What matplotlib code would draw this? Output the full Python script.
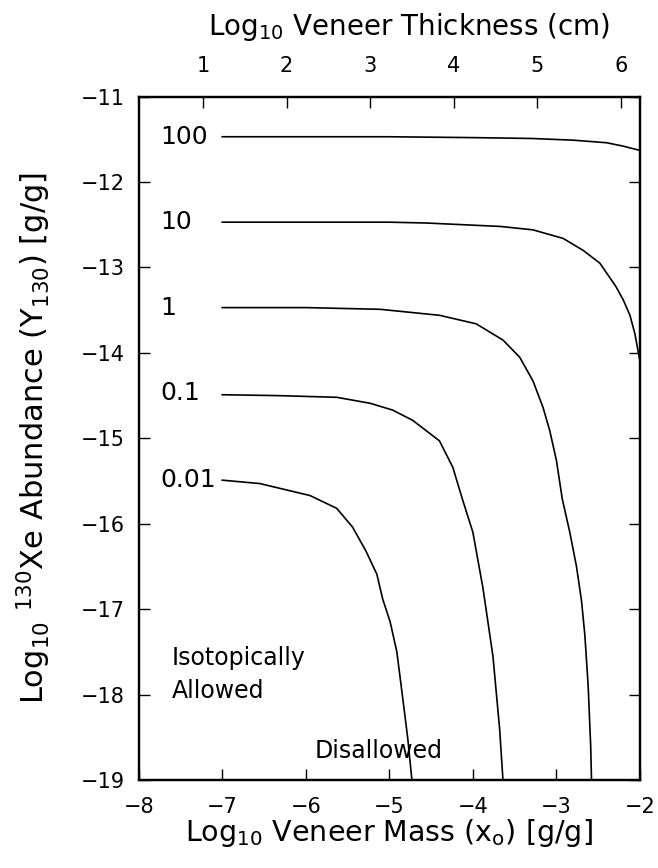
import matplotlib
matplotlib.use("Agg")

import matplotlib.pyplot as plt
import numpy as np

plt.rcParams["font.family"] = ["DejaVu Sans"]
plt.rcParams["mathtext.default"] = "regular"

# veneer curves, one per Xe concentration, in log10 mass / log10 abundance
labels = ["100", "10", "1", "0.1", "0.01"]
label_y = [-11.47, -12.47, -13.47, -14.47, -15.49]

x_100 = [-7.0, -6.0, -5.0, -4.0, -3.3, -2.8, -2.4, -2.2, -2.0]
y_100 = [-11.47, -11.47, -11.47, -11.48, -11.49, -11.51, -11.54, -11.58, -11.63]

x_10 = [-7.0, -6.0, -5.0, -4.55, -3.67, -3.28, -2.92, -2.68, -2.48, -2.29, -2.2, -2.12, -2.06, -2.0]
y_10 = [-12.47, -12.47, -12.47, -12.48, -12.52, -12.56, -12.66, -12.80, -12.95, -13.22, -13.38, -13.56, -13.78, -14.1]

x_1 = [-7.0, -6.0, -5.11, -4.40, -3.96, -3.64, -3.44, -3.28, -3.16, -3.08, -3.00, -2.93,
       -2.84, -2.76, -2.70, -2.66, -2.62, -2.59, -2.58]
y_1 = [-13.47, -13.47, -13.49, -13.56, -13.66, -13.85, -14.05, -14.33, -14.64, -14.91, -15.26, -15.71,
       -16.1, -16.5, -16.9, -17.3, -17.9, -18.6, -19.0]

x_01 = [-7.0, -6.35, -5.63, -5.23, -4.96, -4.72, -4.40, -4.24, -4.12, -4.0, -3.88, -3.76, -3.68, -3.64]
y_01 = [-14.49, -14.50, -14.52, -14.59, -14.67, -14.79, -15.03, -15.34, -15.73, -16.1, -16.75, -17.55, -18.4, -19.0]

x_001 = [-7.0, -6.55, -5.95, -5.63, -5.44, -5.28, -5.15, -5.08, -4.99, -4.91, -4.84, -4.78, -4.73]
y_001 = [-15.49, -15.53, -15.67, -15.82, -16.04, -16.32, -16.59, -16.88, -17.15, -17.5, -18.04, -18.51, -19.0]

curves = [(x_100, y_100), (x_10, y_10), (x_1, y_1), (x_01, y_01), (x_001, y_001)]

# thickness axis: log10 thickness = log10 mass + offset
thick_ticks = [1, 2, 3, 4, 5, 6]
thick_offset = 8.23

fig = plt.figure(figsize=(6.58, 8.68), dpi=100)
ax = fig.add_axes([0.2108, 0.1014, 0.7618, 0.7873])

for (xs, ys) in curves:
    ax.plot(xs, ys, color="black", lw=1.2, solid_joinstyle="round")

for lab, yv in zip(labels, label_y):
    ax.text(-7.74, yv, lab, fontsize=18, ha="left", va="center")

ax.text(-7.6, -17.57, "Isotopically", fontsize=17, ha="left", va="center")
ax.text(-7.6, -17.96, "Allowed", fontsize=17, ha="left", va="center")
ax.text(-5.89, -18.66, "Disallowed", fontsize=17, ha="left", va="center")

ax.set_xlim(-8, -2)
ax.set_ylim(-19, -11)
ax.set_xticks(np.arange(-8, -1, 1))
ax.set_yticks(np.arange(-19, -10, 1))
ax.set_xticklabels(["\u22128", "\u22127", "\u22126", "\u22125", "\u22124", "\u22123", "\u22122"])
ax.set_yticklabels(["\u221219", "\u221218", "\u221217", "\u221216", "\u221215",
                    "\u221214", "\u221213", "\u221212", "\u221211"])
ax.tick_params(axis="both", direction="in", length=8, width=1.0, labelsize=15)
ax.tick_params(axis="x", pad=12)
ax.tick_params(axis="y", pad=10, right=True)

for sp in ax.spines.values():
    sp.set_linewidth(1.6)

ax.set_xlabel(r"Log$_{10}$ Veneer Mass (x$_o$) [g/g]", fontsize=20.5, labelpad=0)
ax.set_ylabel(r"Log$_{10}$ $^{130}$Xe Abundance (Y$_{130}$) [g/g]", fontsize=22)
ax.yaxis.set_label_coords(-0.17, 0.5)

top = ax.twiny()
top.set_xlim(-8, -2)
top.set_xticks([t - thick_offset for t in thick_ticks])
top.set_xticklabels([str(t) for t in thick_ticks])
top.tick_params(axis="x", direction="in", length=8, width=1.0, labelsize=15, pad=15)
top.set_xlabel(r"Log$_{10}$ Veneer Thickness (cm)", fontsize=20)
top.xaxis.set_label_coords(0.54, 1.09)
for sp in top.spines.values():
    sp.set_linewidth(1.6)

fig.savefig("out.png", dpi=100)
